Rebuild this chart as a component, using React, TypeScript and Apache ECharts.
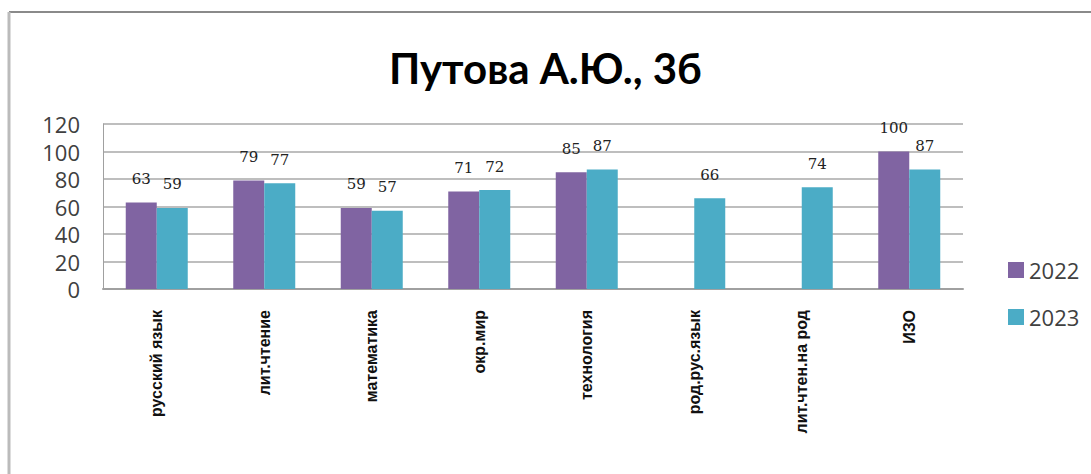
import React, { useEffect, useRef } from "react";
import * as echarts from "echarts";

const categories = [
  "русский язык",
  "лит.чтение",
  "математика",
  "окр.мир",
  "технология",
  "род.рус.язык",
  "лит.чтен.на род",
  "ИЗО",
];
const values2022: (number | null)[] = [63, 79, 59, 71, 85, null, null, 100];
const values2023: (number | null)[] = [59, 77, 57, 72, 87, 66, 74, 87];
const yTicks = [0, 20, 40, 60, 80, 100, 120];

export default function App() {
  const ref = useRef<HTMLDivElement>(null);
  useEffect(() => {
    if (!ref.current) return;
    const chart = echarts.init(ref.current, undefined, { renderer: "svg" });
    const label = {
      show: true,
      position: "top" as const,
      distance: 16,
      fontFamily: "DejaVu Serif",
      fontSize: 15,
      color: "#222",
    };
    chart.setOption({
      animation: false,
      backgroundColor: "#fff",
      title: {
        text: "Путова А.Ю., 3б",
        left: "center",
        top: 42,
        textStyle: {
          fontFamily: "Lato",
          fontWeight: "bold",
          fontSize: 42,
          color: "#000",
        },
      },
      legend: {
        orient: "vertical",
        left: 1003,
        top: 254,
        itemWidth: 16,
        itemHeight: 16,
        itemGap: 25,
        icon: "rect",
        textStyle: { fontFamily: "Open Sans", fontSize: 22, color: "#404040" },
        data: ["2022", "2023"],
      },
      graphic: [
        { type: "line", shape: { x1: 9, y1: 12, x2: 1091, y2: 12 }, style: { stroke: "#8a8a8a", lineWidth: 2 } },
        { type: "line", shape: { x1: 9, y1: 12, x2: 9, y2: 474 }, style: { stroke: "#bbbbbb", lineWidth: 3 } },
      ],
      grid: { left: 103, right: 128, top: 124, bottom: 185, containLabel: false },
      xAxis: {
        type: "category",
        data: categories,
        axisLine: { lineStyle: { color: "#a0a0a0", width: 2 } },
        axisTick: { show: false },
        axisLabel: {
          rotate: 90,
          margin: 21,
          interval: 0,
          fontFamily: "Liberation Sans",
          fontWeight: "bold",
          fontSize: 16,
          color: "#111",
        },
      },
      yAxis: {
        type: "value",
        min: 0,
        max: 120,
        interval: 20,
        axisLine: { show: true, lineStyle: { color: "#a0a0a0", width: 1 } },
        axisTick: { show: false },
        axisLabel: {
          margin: 23,
          fontFamily: "Open Sans",
          fontSize: 22,
          color: "#404040",
          formatter: (v: number) => (yTicks.includes(v) ? String(v) : ""),
        },
        splitLine: { lineStyle: { color: "#a8a8a8", width: 1.5 } },
      },
      series: [
        {
          name: "2022",
          type: "bar",
          data: values2022,
          barWidth: 31,
          barGap: "0%",
          itemStyle: { color: "#8064A2" },
          label,
        },
        {
          name: "2023",
          type: "bar",
          data: values2023,
          barWidth: 31,
          barGap: "0%",
          itemStyle: { color: "#4BACC6" },
          label,
        },
      ],
    });
    return () => chart.dispose();
  }, []);
  return (
    <div
      ref={ref}
      style={{ position: "absolute", left: 0, top: 0, width: 1091, height: 474 }}
    />
  );
}
